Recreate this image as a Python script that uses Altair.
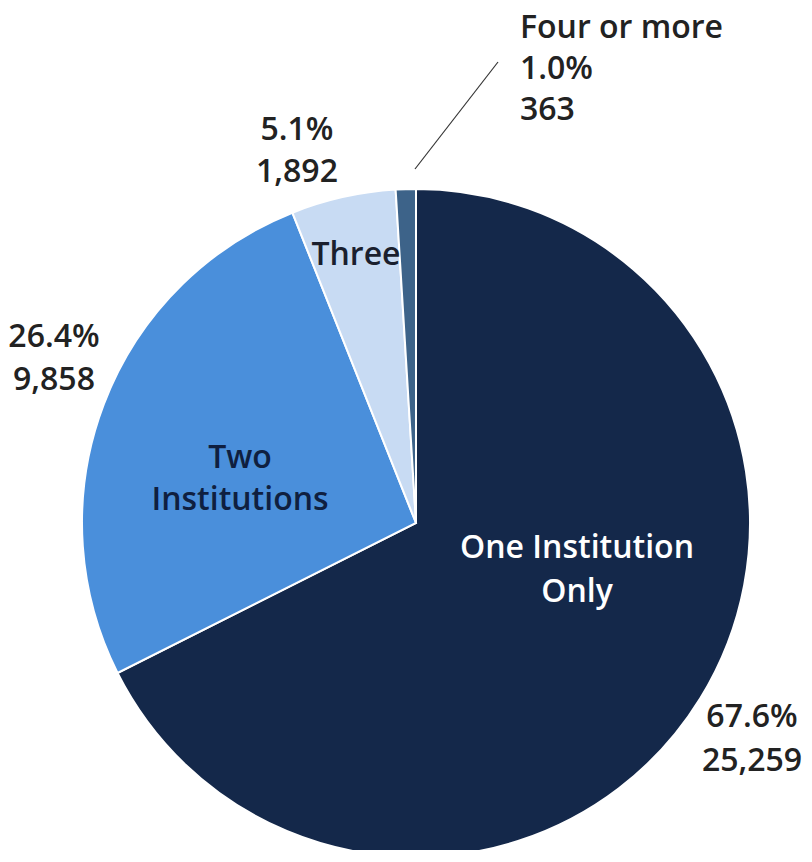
import altair as alt
import pandas as pd

categories = ["One Institution Only", "Two Institutions", "Three", "Four or more"]
counts = [25259, 9858, 1892, 363]
percents = ["67.6%", "26.4%", "5.1%", "1.0%"]
colors = ["#14284A", "#4A8FDB", "#C8DBF3", "#3D6389"]

df = pd.DataFrame({"category": categories, "count": counts, "order": [0, 1, 2, 3]})

CX, CY, R = 408, 515, 334
FONT = "Open Sans"
FS = 32

pie = alt.Chart(df).mark_arc(radius=R, stroke="white", strokeWidth=2).encode(
    theta=alt.Theta("count:Q", stack=True),
    order=alt.Order("order:Q"),
    color=alt.Color("category:N", scale=alt.Scale(domain=categories, range=colors), legend=None),
    x=alt.value(CX),
    y=alt.value(CY),
)


def label(lines, x, y, color="#222222", align="center", lh=44):
    d = pd.DataFrame({"t": [lines]})
    return alt.Chart(d).mark_text(
        font=FONT, fontSize=FS, fontWeight=600, color=color, align=align,
        baseline="middle", lineHeight=lh,
    ).encode(text="t:N", x=alt.value(x), y=alt.value(y))


fmt = lambda n: f"{n:,}"

layers = [
    pie,
    alt.Chart(pd.DataFrame({"a": [0]})).mark_rule(color="#333333", strokeWidth=1.2).encode(
        x=alt.value(407), y=alt.value(161), x2=alt.value(490), y2=alt.value(54)
    ),
    label(["Four or more", percents[3], fmt(counts[3])], 512, 20, align="left", lh=41),
    label([percents[2], fmt(counts[2])], 289, 122, lh=42),
    label([percents[1], fmt(counts[1])], 46, 329, lh=43),
    label([percents[0], fmt(counts[0])], 744, 709),
    label(["Three"], 348, 247, color="#1A1F2E"),
    label(["Two", "Institutions"], 232, 450, color="#0F1F40", lh=42),
    label(["One Institution", "Only"], 569, 540, color="#FFFFFF"),
]

chart = alt.layer(*layers).properties(
    width=794, height=842, padding=0, autosize=alt.AutoSizeParams(type="none")
).configure_view(strokeOpacity=0, strokeWidth=0)

chart.save("out.html", embed_options={"renderer": "svg", "actions": False})
